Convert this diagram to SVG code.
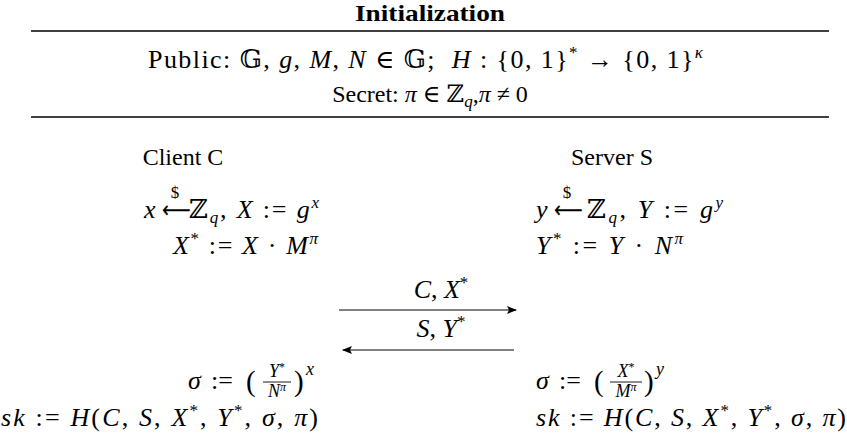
<svg xmlns="http://www.w3.org/2000/svg" width="847" height="442" viewBox="0 0 847 442">
<style>
.t{font-family:"Liberation Serif","DejaVu Serif",serif;font-size:24px;fill:#000}
.m{font-family:"Liberation Serif","DejaVu Serif",serif;font-size:26px;fill:#000}
.f{font-family:"Liberation Serif","DejaVu Serif",serif;font-size:18px;fill:#000}
.b{font-weight:bold}
.i{font-style:italic}
.n{font-style:normal}
.s{font-size:17px}
.ss{font-size:12px}
.bb{font-family:"DejaVu Serif","DejaVu Sans",serif}
.ar{font-family:"DejaVu Sans",sans-serif;font-size:24px}
.rule{stroke:#000;stroke-width:1.4}
.conn{stroke:#000;stroke-width:1.2;fill:none}
.bar{stroke:#000;stroke-width:0.9}
</style>
<defs>
<marker id="ah" viewBox="0 0 10 10" refX="9" refY="5" markerWidth="10" markerHeight="10" markerUnits="userSpaceOnUse" orient="auto">
<path d="M0,1 L10,5 L0,9 L2,5 Z" fill="#000"/>
</marker>
</defs>
<g id="header">
<text class="t b" x="355" y="21" textLength="150" lengthAdjust="spacingAndGlyphs">Initialization</text>
<line class="rule" x1="31" y1="31" x2="829" y2="31"/>
<text class="t" x="148" y="68" style="font-size:26px" textLength="555" lengthAdjust="spacing" xml:space="preserve">Public: <tspan class="bb">𝔾</tspan>, <tspan class="i">g</tspan>, <tspan class="i">M</tspan>, <tspan class="i">N</tspan> ∈ <tspan class="bb">𝔾</tspan>;  <tspan class="i">H</tspan> : {0, 1}<tspan class="s" dy="-10">*</tspan><tspan dy="10"> → {0, 1}</tspan><tspan class="s i" dy="-10">κ</tspan></text>
<text class="t" x="430" y="102" text-anchor="middle" xml:space="preserve">Secret: <tspan class="i">π</tspan> ∈ <tspan class="bb">ℤ</tspan><tspan class="i s" dy="5">q</tspan><tspan dy="-5">,</tspan><tspan class="i">π</tspan> ≠ 0</text>
<line class="rule" x1="31" y1="117" x2="829" y2="117"/>
</g>
<g id="client">
<text class="t" x="183" y="165" text-anchor="middle">Client C</text>
<text class="m i" x="144" y="218">x</text>
<text class="ar" transform="translate(162,218) scale(0.84,1)">⟵</text>
<text class="f" x="175" y="198" text-anchor="middle" style="font-size:17px">$</text>
<text class="m" x="189" y="218" textLength="130" lengthAdjust="spacing"><tspan class="bb">ℤ</tspan><tspan class="i s" dy="5">q</tspan><tspan dy="-5">, </tspan><tspan class="i">X</tspan> := <tspan class="i">g</tspan><tspan class="i s" dy="-10">x</tspan></text>
<text class="m" x="173" y="254" textLength="145" lengthAdjust="spacing"><tspan class="i">X</tspan><tspan class="s" dy="-10">*</tspan><tspan dy="10"> := </tspan><tspan class="i">X</tspan> · <tspan class="i">M</tspan><tspan class="i s" dy="-10">π</tspan></text>
<text class="m i" x="188" y="389">σ</text>
<text class="m" x="211" y="389">:=</text>
<text class="m" x="246" y="391" style="font-size:29px">(</text>
<text class="f i" x="277" y="377" text-anchor="middle">Y<tspan class="n ss" dy="-6">*</tspan></text>
<line class="bar" x1="263" y1="382" x2="291" y2="382"/>
<text class="f i" x="277" y="397" text-anchor="middle">N<tspan class="ss" dy="-6">π</tspan></text>
<text class="m" x="294" y="391" style="font-size:29px">)</text>
<text class="f i" x="306" y="375">x</text>
<text class="m" x="1" y="426" textLength="317" lengthAdjust="spacing"><tspan class="i">sk</tspan> := <tspan class="i">H</tspan>(<tspan class="i">C</tspan>, <tspan class="i">S</tspan>, <tspan class="i">X</tspan><tspan class="s" dy="-10">*</tspan><tspan dy="10">, </tspan><tspan class="i">Y</tspan><tspan class="s" dy="-10">*</tspan><tspan dy="10">, </tspan><tspan class="i">σ</tspan>, <tspan class="i">π</tspan>)</text>
</g>
<g id="server">
<text class="t" x="612" y="165" text-anchor="middle">Server S</text>
<text class="m i" x="536" y="218">y</text>
<text class="ar" transform="translate(554,218) scale(0.84,1)">⟵</text>
<text class="f" x="567" y="198" text-anchor="middle" style="font-size:17px">$</text>
<text class="m" x="587" y="218" textLength="136" lengthAdjust="spacing"><tspan class="bb">ℤ</tspan><tspan class="i s" dy="5">q</tspan><tspan dy="-5">, </tspan><tspan class="i">Y</tspan> := <tspan class="i">g</tspan><tspan class="i s" dy="-10">y</tspan></text>
<text class="m" x="536" y="254" textLength="147" lengthAdjust="spacing"><tspan class="i">Y</tspan><tspan class="s" dy="-10">*</tspan><tspan dy="10"> := </tspan><tspan class="i">Y</tspan> · <tspan class="i">N</tspan><tspan class="i s" dy="-10">π</tspan></text>
<text class="m i" x="536" y="389">σ</text>
<text class="m" x="559" y="389">:=</text>
<text class="m" x="594" y="391" style="font-size:29px">(</text>
<text class="f i" x="626" y="377" text-anchor="middle">X<tspan class="n ss" dy="-6">*</tspan></text>
<line class="bar" x1="610" y1="382" x2="642" y2="382"/>
<text class="f i" x="626" y="397" text-anchor="middle">M<tspan class="ss" dy="-6">π</tspan></text>
<text class="m" x="644" y="391" style="font-size:29px">)</text>
<text class="f i" x="656" y="375">y</text>
<text class="m" x="536" y="426" textLength="310" lengthAdjust="spacing"><tspan class="i">sk</tspan> := <tspan class="i">H</tspan>(<tspan class="i">C</tspan>, <tspan class="i">S</tspan>, <tspan class="i">X</tspan><tspan class="s" dy="-10">*</tspan><tspan dy="10">, </tspan><tspan class="i">Y</tspan><tspan class="s" dy="-10">*</tspan><tspan dy="10">, </tspan><tspan class="i">σ</tspan>, <tspan class="i">π</tspan>)</text>
</g>
<g id="connectors">
<line class="conn" x1="339" y1="310" x2="516" y2="310" marker-end="url(#ah)"/>
<text class="m" x="441" y="298" text-anchor="middle"><tspan class="i">C</tspan>, <tspan class="i">X</tspan><tspan class="s" dy="-10">*</tspan></text>
<line class="conn" x1="514" y1="350" x2="343" y2="350" marker-end="url(#ah)"/>
<text class="m" x="441" y="337" text-anchor="middle"><tspan class="i">S</tspan>, <tspan class="i">Y</tspan><tspan class="s" dy="-10">*</tspan></text>
</g>
</svg>
